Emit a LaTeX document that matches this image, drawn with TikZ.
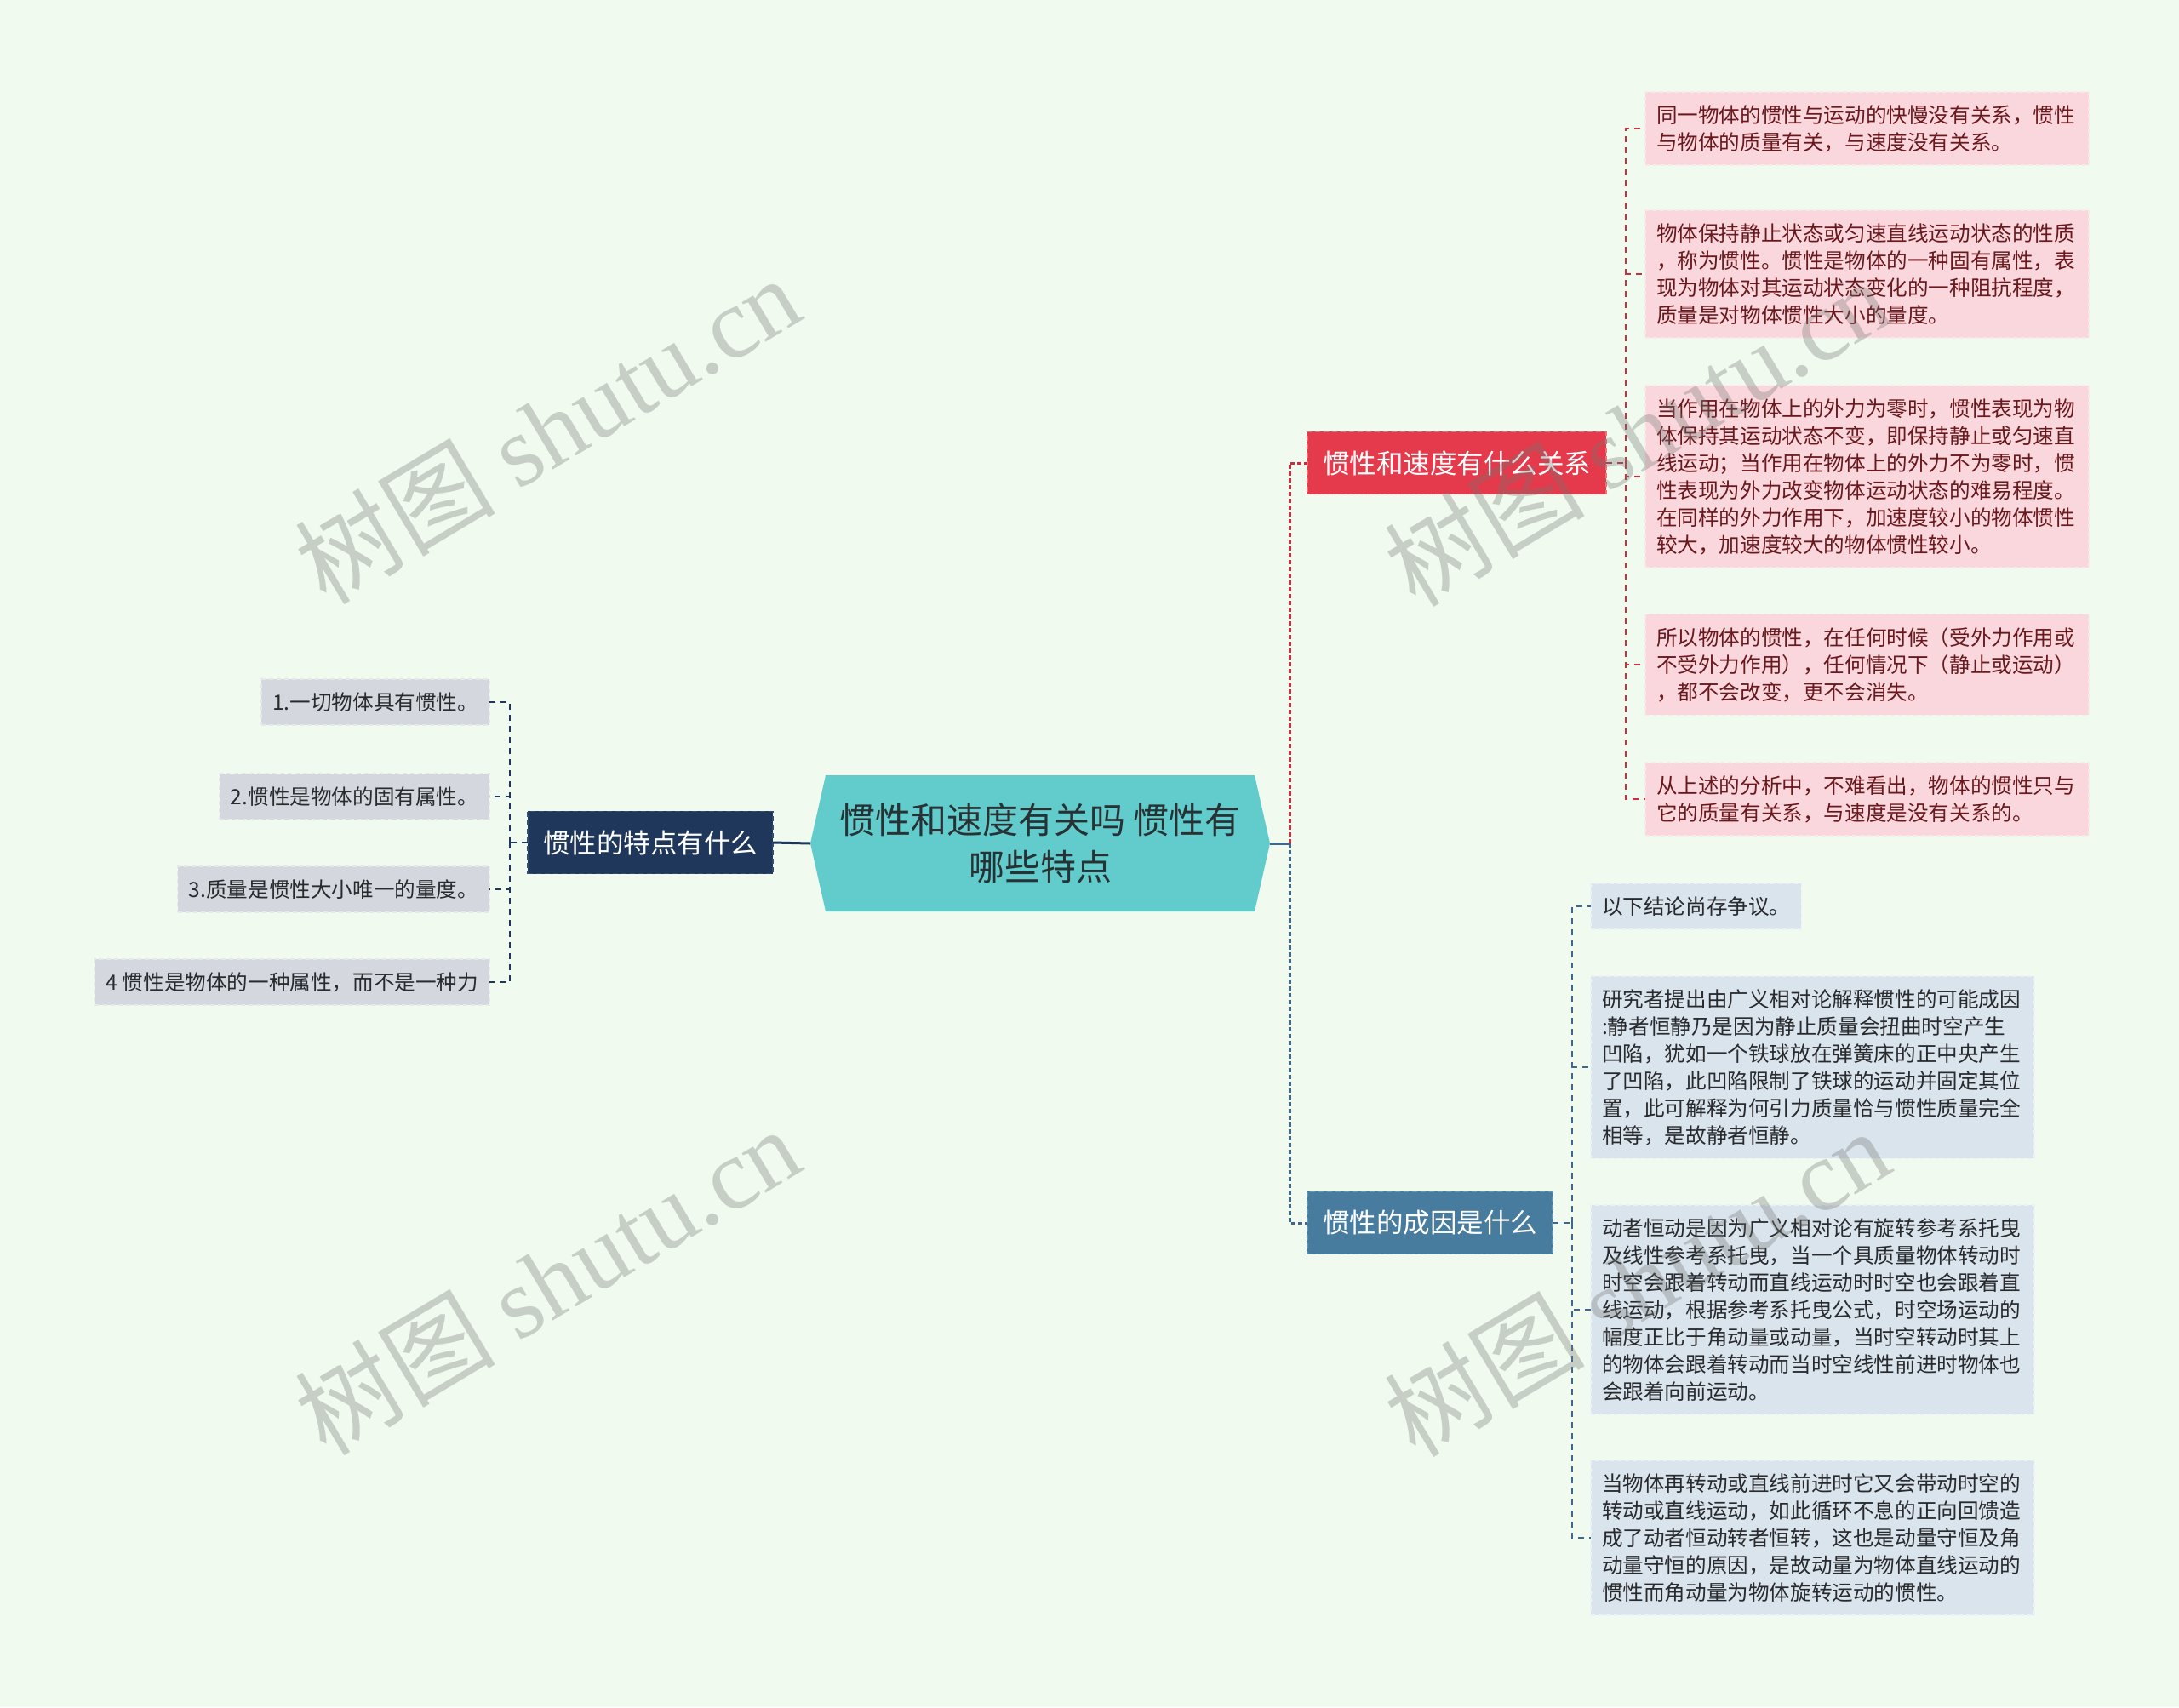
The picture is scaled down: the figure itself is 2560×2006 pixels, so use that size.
\documentclass[tikz,border=0pt]{standalone}
\usepackage{fontspec}
\setmainfont{Noto Sans CJK SC}
\newfontfamily\wmlatin{Liberation Serif}
\usetikzlibrary{backgrounds,calc}

\definecolor{bgc}{RGB}{240,250,239}
\definecolor{rootfill}{RGB}{98,203,204}
\definecolor{roottext}{RGB}{40,50,52}
\definecolor{navy}{RGB}{30,55,90}
\definecolor{navyedge}{RGB}{52,78,112}
\definecolor{redfill}{RGB}{229,58,75}
\definecolor{rededge}{RGB}{240,110,120}
\definecolor{bluefill}{RGB}{72,124,158}
\definecolor{blueedge}{RGB}{100,150,180}
\definecolor{pinkfill}{RGB}{250,215,220}
\definecolor{pinkedge}{RGB}{252,232,235}
\definecolor{pinktext}{RGB}{105,25,30}
\definecolor{lbluefill}{RGB}{218,228,236}
\definecolor{lblueedge}{RGB}{235,241,246}
\definecolor{greyfill}{RGB}{212,216,222}
\definecolor{greyedge}{RGB}{230,233,236}
\definecolor{darktext}{RGB}{40,42,46}
\definecolor{redline}{RGB}{205,45,65}
\definecolor{blueline}{RGB}{62,104,138}
\definecolor{wmgrey}{RGB}{115,118,115}

\begin{document}
\begin{tikzpicture}[x=1pt,y=-1pt,
  every node/.style={inner sep=0pt, outer sep=0pt},
  branchbox/.style={rectangle, inner xsep=18pt, inner ysep=22pt, text=white,
    font=\fontsize{31.5}{38}\selectfont, line width=1.5pt, dash pattern=on 6pt off 4pt},
  leafbox/.style={rectangle, inner xsep=13pt, inner ysep=15.5pt, align=left,
    font=\fontsize{24.6}{32}\selectfont, line width=1.5pt, dash pattern=on 5pt off 4pt},
  wideleaf/.style={leafbox, text width=495pt},
  redleaf/.style={fill=pinkfill, draw=pinkedge, text=pinktext},
  blueleaf/.style={fill=lbluefill, draw=lblueedge, text=darktext},
  greyleaf/.style={fill=greyfill, draw=greyedge, text=darktext},
  mainvert/.style={line width=3pt, dash pattern=on 5pt off 3pt},
  leafconn/.style={line width=2pt, dash pattern=on 7pt off 6pt},
  wm/.style={text=wmgrey, text opacity=0.33, rotate=31, font=\fontsize{118}{130}\selectfont}
]
\begin{pgfonlayer}{background}
\fill[bgc] (0,0) rectangle (2560,2006);
\end{pgfonlayer}
\useasboundingbox (0,0) rectangle (2560,2006);

% root
\node[minimum width=540pt, minimum height=160pt, align=center,
  font=\fontsize{42}{55}\selectfont, text=roottext] (root) at (1222,991)
  {惯性和速度有关吗 惯性有\\哪些特点};
\begin{pgfonlayer}{background}
\fill[rootfill] (root.west) -- ([xshift=18pt]root.north west) -- ([xshift=-18pt]root.north east)
  -- (root.east) -- ([xshift=-18pt]root.south east) -- ([xshift=18pt]root.south west) -- cycle;
\end{pgfonlayer}

% branch nodes
\node[branchbox, fill=navy, draw=navyedge, anchor=east] (left) at (908,990) {惯性的特点有什么};
\node[branchbox, fill=redfill, draw=rededge, anchor=west] (redb) at (1536,544) {惯性和速度有什么关系};
\node[branchbox, fill=bluefill, draw=blueedge, anchor=west] (blueb) at (1536,1437) {惯性的成因是什么};

% left leaves
\node[leafbox, greyleaf, anchor=east] (l1) at (575,825) {1.一切物体具有惯性。};
\node[leafbox, greyleaf, anchor=east] (l2) at (575,936) {2.惯性是物体的固有属性。};
\node[leafbox, greyleaf, anchor=east] (l3) at (575,1045) {3.质量是惯性大小唯一的量度。};
\node[leafbox, greyleaf, anchor=east] (l4) at (575,1154) {4 惯性是物体的一种属性，而不是一种力};

% red leaves
\node[wideleaf, redleaf, anchor=west] (r1) at (1933,151)
  {同一物体的惯性与运动的快慢没有关系，惯性\\与物体的质量有关，与速度没有关系。};
\node[wideleaf, redleaf, anchor=west] (r2) at (1933,322)
  {物体保持静止状态或匀速直线运动状态的性质\\，称为惯性。惯性是物体的一种固有属性，表\\现为物体对其运动状态变化的一种阻抗程度，\\质量是对物体惯性大小的量度。};
\node[wideleaf, redleaf, anchor=west] (r3) at (1933,560)
  {当作用在物体上的外力为零时，惯性表现为物\\体保持其运动状态不变，即保持静止或匀速直\\线运动；当作用在物体上的外力不为零时，惯\\性表现为外力改变物体运动状态的难易程度。\\在同样的外力作用下，加速度较小的物体惯性\\较大，加速度较大的物体惯性较小。};
\node[wideleaf, redleaf, anchor=west] (r4) at (1933,781)
  {所以物体的惯性，在任何时候（受外力作用或\\不受外力作用），任何情况下（静止或运动）\\，都不会改变，更不会消失。};
\node[wideleaf, redleaf, anchor=west] (r5) at (1933,939)
  {从上述的分析中，不难看出，物体的惯性只与\\它的质量有关系，与速度是没有关系的。};

% blue leaves
\node[leafbox, blueleaf, anchor=west] (b1) at (1869,1065) {以下结论尚存争议。};
\node[wideleaf, blueleaf, anchor=west] (b2) at (1869,1254)
  {研究者提出由广义相对论解释惯性的可能成因\\:静者恒静乃是因为静止质量会扭曲时空产生\\凹陷，犹如一个铁球放在弹簧床的正中央产生\\了凹陷，此凹陷限制了铁球的运动并固定其位\\置，此可解释为何引力质量恰与惯性质量完全\\相等，是故静者恒静。};
\node[wideleaf, blueleaf, anchor=west] (b3) at (1869,1539)
  {动者恒动是因为广义相对论有旋转参考系托曳\\及线性参考系托曳，当一个具质量物体转动时\\时空会跟着转动而直线运动时时空也会跟着直\\线运动，根据参考系托曳公式，时空场运动的\\幅度正比于角动量或动量，当时空转动时其上\\的物体会跟着转动而当时空线性前进时物体也\\会跟着向前运动。};
\node[wideleaf, blueleaf, anchor=west] (b4) at (1869,1807)
  {当物体再转动或直线前进时它又会带动时空的\\转动或直线运动，如此循环不息的正向回馈造\\成了动者恒动转者恒转，这也是动量守恒及角\\动量守恒的原因，是故动量为物体直线运动的\\惯性而角动量为物体旋转运动的惯性。};

% junctions
\coordinate (mj) at (1515,991);
\coordinate (lj) at (599,990);
\coordinate (rj) at (1910,544);
\coordinate (bj) at (1847,1437);

% main connectors
\draw[navy, line width=3pt] (root.west) -- (left.east);
\draw[blueline, line width=3pt] (root.east) -- (mj);
\draw[redline, mainvert] (mj) |- (redb.west);
\draw[blueline, mainvert] (mj) |- (blueb.west);

% left leaf connectors
\draw[navy, leafconn] (left.west) -- (lj);
\foreach \n in {l1,l2,l3,l4} \draw[navy, leafconn] (lj) |- (\n.east);

% red leaf connectors
\draw[redline, leafconn] (redb.east) -- (rj);
\foreach \n in {r1,r2,r3,r4,r5} \draw[redline, leafconn] (rj) |- (\n.west);

% blue leaf connectors
\draw[blueline, leafconn] (blueb.east) -- (bj);
\foreach \n in {b1,b2,b3,b4} \draw[blueline, leafconn] (bj) |- (\n.west);

% watermarks
\node[wm] (wm1) at (643,504) {树图 {\wmlatin shutu.cn}};
\node[wm] (wm2) at (643,1504) {树图 {\wmlatin shutu.cn}};
\node[wm] (wm3) at (1923,507) {树图 {\wmlatin shutu.cn}};
\node[wm] (wm4) at (1923,1506) {树图 {\wmlatin shutu.cn}};
\end{tikzpicture}
\end{document}
